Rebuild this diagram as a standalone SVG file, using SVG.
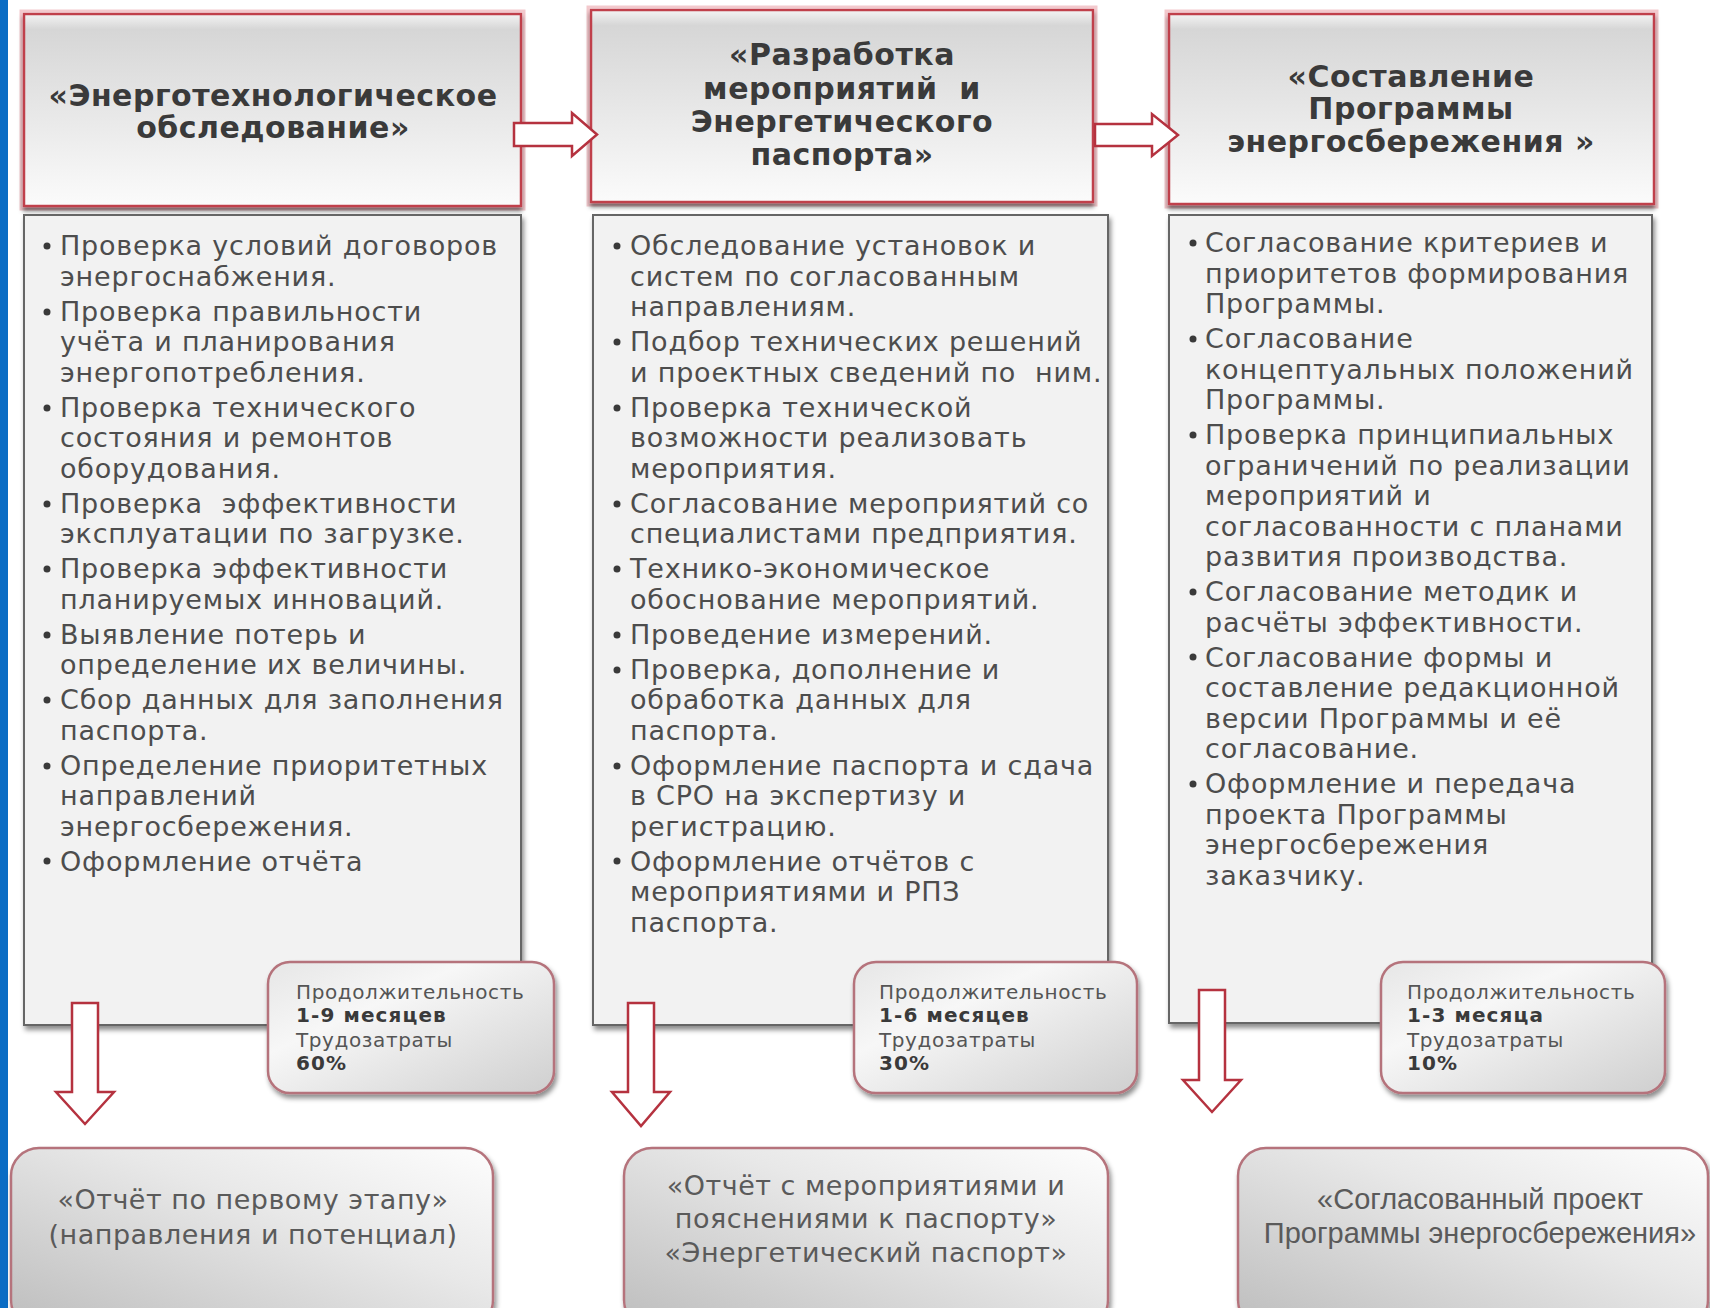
<svg xmlns="http://www.w3.org/2000/svg" width="1710" height="1308" viewBox="0 0 1710 1308">
<style>
.hdr{font-family:"DejaVu Sans","Verdana",sans-serif;font-weight:bold;font-size:30px;letter-spacing:0.5px;fill:#3a3a3a;text-anchor:middle}
.body{font-family:"DejaVu Sans","Verdana",sans-serif;font-size:27px;letter-spacing:0.8px;fill:#4d4d4d}
.dur{font-family:"DejaVu Sans","Verdana",sans-serif;font-size:20px;letter-spacing:0.6px;fill:#555}
.durb{font-weight:bold;fill:#3a3a3a;letter-spacing:1.1px}
.res{font-family:"DejaVu Sans","Verdana",sans-serif;font-size:27px;letter-spacing:0.5px;fill:#5a5a5a;text-anchor:middle}
.res3{font-family:"Liberation Sans","Arial",sans-serif;font-size:29px;fill:#5a5a5a;text-anchor:middle}
.hbox{fill:url(#hgrad);stroke:#c0404c;stroke-width:2.5}
.bbox{fill:#f2f2f2;stroke:#666;stroke-width:2}
.dbox{fill:url(#dgrad);stroke:#b5737b;stroke-width:2.5}
.rbox{fill:url(#rgrad);stroke:#b5737b;stroke-width:2.5}
.arr{fill:#fff;stroke:#b5323f;stroke-width:2.5;stroke-linejoin:miter}
.bul{fill:#3a3a3a}
</style>
<defs>
<linearGradient id="hgrad" x1="0" y1="0" x2="0" y2="1">
<stop offset="0" stop-color="#f4f4f4"/>
<stop offset="0.08" stop-color="#d6d6d6"/>
<stop offset="1" stop-color="#fbfbfb"/>
</linearGradient>
<linearGradient id="dgrad" x1="0" y1="0" x2="1" y2="1">
<stop offset="0" stop-color="#e6e6e6"/>
<stop offset="0.35" stop-color="#f7f7f7"/>
<stop offset="1" stop-color="#cfcfcf"/>
</linearGradient>
<linearGradient id="rgrad" x1="0" y1="1" x2="1" y2="0">
<stop offset="0" stop-color="#bdbdbd"/>
<stop offset="0.6" stop-color="#e8e8e8"/>
<stop offset="1" stop-color="#fdfdfd"/>
</linearGradient>
<filter id="sh" x="-5%" y="-5%" width="112%" height="115%">
<feDropShadow dx="2" dy="4" stdDeviation="2.5" flood-color="#000" flood-opacity="0.45"/>
</filter>
<filter id="glow" x="-5%" y="-10%" width="110%" height="125%">
<feDropShadow dx="0" dy="4" stdDeviation="2" flood-color="#000" flood-opacity="0.5"/>
</filter>
</defs>
<rect x="0" y="0" width="1710" height="1308" fill="#fff"/>
<rect x="0" y="0" width="8" height="1308" fill="#0a6cc4"/>

<g id="stage1-header">
<rect x="21" y="11" width="503" height="198" fill="none" stroke="#f3c9cd" stroke-width="3"/>
<rect class="hbox" x="24" y="14" width="497" height="192" filter="url(#glow)"/>
<text class="hdr" x="273" y="106">«Энерготехнологическое</text>
<text class="hdr" x="273" y="138">обследование»</text>
</g>
<g id="stage2-header">
<rect x="588" y="7" width="508" height="198" fill="none" stroke="#f3c9cd" stroke-width="3"/>
<rect class="hbox" x="591" y="10" width="502" height="192" filter="url(#glow)"/>
<text class="hdr" x="842" y="65">«Разработка</text>
<text class="hdr" x="842" y="99" xml:space="preserve">мероприятий  и</text>
<text class="hdr" x="842" y="132">Энергетического</text>
<text class="hdr" x="842" y="165">паспорта»</text>
</g>
<g id="stage3-header">
<rect x="1166" y="11" width="491" height="196" fill="none" stroke="#f3c9cd" stroke-width="3"/>
<rect class="hbox" x="1169" y="14" width="485" height="190" filter="url(#glow)"/>
<text class="hdr" x="1411" y="87">«Составление</text>
<text class="hdr" x="1411" y="119">Программы</text>
<text class="hdr" x="1411" y="152">энергосбережения »</text>
</g>

<g id="stage1-body">
<rect class="bbox" x="24" y="215" width="497" height="810" filter="url(#sh)"/>
<g class="bul">
<circle cx="47" cy="246" r="3.5"/><circle cx="47" cy="312" r="3.5"/><circle cx="47" cy="408" r="3.5"/><circle cx="47" cy="504" r="3.5"/><circle cx="47" cy="569" r="3.5"/><circle cx="47" cy="635" r="3.5"/><circle cx="47" cy="700" r="3.5"/><circle cx="47" cy="766" r="3.5"/><circle cx="47" cy="861" r="3.5"/>
</g>
<text class="body">
<tspan x="60" y="255">Проверка условий договоров</tspan>
<tspan x="60" y="285.5">энергоснабжения.</tspan>
<tspan x="60" y="320.5">Проверка правильности</tspan>
<tspan x="60" y="351">учёта и планирования</tspan>
<tspan x="60" y="381.5">энергопотребления.</tspan>
<tspan x="60" y="416.5">Проверка технического</tspan>
<tspan x="60" y="447">состояния и ремонтов</tspan>
<tspan x="60" y="477.5">оборудования.</tspan>
<tspan x="60" y="512.5" xml:space="preserve">Проверка  эффективности</tspan>
<tspan x="60" y="543">эксплуатации по загрузке.</tspan>
<tspan x="60" y="578">Проверка эффективности</tspan>
<tspan x="60" y="608.5">планируемых инноваций.</tspan>
<tspan x="60" y="643.5">Выявление потерь и</tspan>
<tspan x="60" y="674">определение их величины.</tspan>
<tspan x="60" y="709">Сбор данных для заполнения</tspan>
<tspan x="60" y="739.5">паспорта.</tspan>
<tspan x="60" y="774.5">Определение приоритетных</tspan>
<tspan x="60" y="805">направлений</tspan>
<tspan x="60" y="835.5">энергосбережения.</tspan>
<tspan x="60" y="870.5">Оформление отчёта</tspan>
</text>
</g>

<g id="stage2-body">
<rect class="bbox" x="593" y="215" width="515" height="810" filter="url(#sh)"/>
<g class="bul">
<circle cx="617" cy="246" r="3.5"/><circle cx="617" cy="342" r="3.5"/><circle cx="617" cy="408" r="3.5"/><circle cx="617" cy="504" r="3.5"/><circle cx="617" cy="569" r="3.5"/><circle cx="617" cy="635" r="3.5"/><circle cx="617" cy="670" r="3.5"/><circle cx="617" cy="766" r="3.5"/><circle cx="617" cy="861" r="3.5"/>
</g>
<text class="body">
<tspan x="630" y="255">Обследование установок и</tspan>
<tspan x="630" y="285.5">систем по согласованным</tspan>
<tspan x="630" y="316">направлениям.</tspan>
<tspan x="630" y="351">Подбор технических решений</tspan>
<tspan x="630" y="381.5" xml:space="preserve">и проектных сведений по  ним.</tspan>
<tspan x="630" y="416.5">Проверка технической</tspan>
<tspan x="630" y="447">возможности реализовать</tspan>
<tspan x="630" y="477.5">мероприятия.</tspan>
<tspan x="630" y="512.5">Согласование мероприятий со</tspan>
<tspan x="630" y="543">специалистами предприятия.</tspan>
<tspan x="630" y="578">Технико-экономическое</tspan>
<tspan x="630" y="608.5">обоснование мероприятий.</tspan>
<tspan x="630" y="643.5">Проведение измерений.</tspan>
<tspan x="630" y="678.5">Проверка, дополнение и</tspan>
<tspan x="630" y="709">обработка данных для</tspan>
<tspan x="630" y="739.5">паспорта.</tspan>
<tspan x="630" y="774.5">Оформление паспорта и сдача</tspan>
<tspan x="630" y="805">в СРО на экспертизу и</tspan>
<tspan x="630" y="835.5">регистрацию.</tspan>
<tspan x="630" y="870.5">Оформление отчётов с</tspan>
<tspan x="630" y="901">мероприятиями и РПЗ</tspan>
<tspan x="630" y="931.5">паспорта.</tspan>
</text>
</g>

<g id="stage3-body">
<rect class="bbox" x="1169" y="215" width="483" height="808" filter="url(#sh)"/>
<g class="bul">
<circle cx="1193" cy="243" r="3.5"/><circle cx="1193" cy="339" r="3.5"/><circle cx="1193" cy="435" r="3.5"/><circle cx="1193" cy="592" r="3.5"/><circle cx="1193" cy="657" r="3.5"/><circle cx="1193" cy="784" r="3.5"/>
</g>
<text class="body">
<tspan x="1205" y="252">Согласование критериев и</tspan>
<tspan x="1205" y="282.5">приоритетов формирования</tspan>
<tspan x="1205" y="313">Программы.</tspan>
<tspan x="1205" y="348">Согласование</tspan>
<tspan x="1205" y="378.5">концептуальных положений</tspan>
<tspan x="1205" y="409">Программы.</tspan>
<tspan x="1205" y="444">Проверка принципиальных</tspan>
<tspan x="1205" y="474.5">ограничений по реализации</tspan>
<tspan x="1205" y="505">мероприятий и</tspan>
<tspan x="1205" y="535.5">согласованности с планами</tspan>
<tspan x="1205" y="566">развития производства.</tspan>
<tspan x="1205" y="601">Согласование методик и</tspan>
<tspan x="1205" y="631.5">расчёты эффективности.</tspan>
<tspan x="1205" y="666.5">Согласование формы и</tspan>
<tspan x="1205" y="697">составление редакционной</tspan>
<tspan x="1205" y="727.5">версии Программы и её</tspan>
<tspan x="1205" y="758">согласование.</tspan>
<tspan x="1205" y="793">Оформление и передача</tspan>
<tspan x="1205" y="823.5">проекта Программы</tspan>
<tspan x="1205" y="854">энергосбережения</tspan>
<tspan x="1205" y="884.5">заказчику.</tspan>
</text>
</g>

<g id="stage1-duration">
<rect class="dbox" x="268" y="962" width="286" height="131" rx="22" filter="url(#sh)"/>
<text class="dur"><tspan x="296" y="999">Продолжительность</tspan><tspan class="durb" x="296" y="1022">1-9 месяцев</tspan><tspan x="296" y="1047">Трудозатраты</tspan><tspan class="durb" x="296" y="1070">60%</tspan></text>
</g>
<g id="stage2-duration">
<rect class="dbox" x="854" y="962" width="283" height="131" rx="22" filter="url(#sh)"/>
<text class="dur"><tspan x="879" y="999">Продолжительность</tspan><tspan class="durb" x="879" y="1022">1-6 месяцев</tspan><tspan x="879" y="1047">Трудозатраты</tspan><tspan class="durb" x="879" y="1070">30%</tspan></text>
</g>
<g id="stage3-duration">
<rect class="dbox" x="1381" y="962" width="284" height="131" rx="22" filter="url(#sh)"/>
<text class="dur"><tspan x="1407" y="999">Продолжительность</tspan><tspan class="durb" x="1407" y="1022">1-3 месяца</tspan><tspan x="1407" y="1047">Трудозатраты</tspan><tspan class="durb" x="1407" y="1070">10%</tspan></text>
</g>

<g id="result1">
<rect class="rbox" x="11" y="1148" width="482" height="180" rx="28" filter="url(#sh)"/>
<text class="res" x="253" y="1209">«Отчёт по первому этапу»</text>
<text class="res" x="253" y="1244">(направления и потенциал)</text>
</g>
<g id="result2">
<rect class="rbox" x="624" y="1148" width="484" height="180" rx="28" filter="url(#sh)"/>
<text class="res" x="866" y="1195">«Отчёт с мероприятиями и</text>
<text class="res" x="866" y="1228">пояснениями к паспорту»</text>
<text class="res" x="866" y="1262">«Энергетический паспорт»</text>
</g>
<g id="result3">
<rect class="rbox" x="1238" y="1148" width="470" height="180" rx="28" filter="url(#sh)"/>
<text class="res3" x="1480" y="1209">«Согласованный проект</text>
<text class="res3" x="1480" y="1243">Программы энергосбережения»</text>
</g>

<g id="connectors">
<path class="arr" d="M514,123 H572 V113 L597,134.5 L572,156 V146 H514 Z"/>
<path class="arr" d="M1095,124 H1152 V114 L1178,135 L1152,156 V146 H1095 Z"/>
<path class="arr" d="M72,1003 H98 V1092 H114 L85,1124 L56,1092 H72 Z"/>
<path class="arr" d="M628,1003 H654 V1092 H670 L641,1126 L612,1092 H628 Z"/>
<path class="arr" d="M1199,990 H1225 V1080 H1241 L1212,1112 L1183,1080 H1199 Z"/>
</g>
</svg>
